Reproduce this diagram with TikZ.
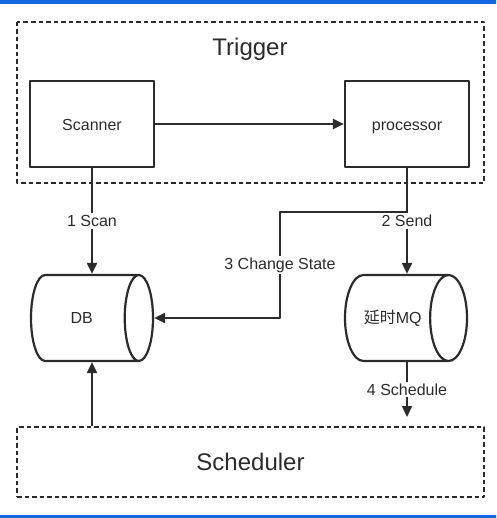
\documentclass[tikz,border=0pt]{standalone}
\usepackage{fontspec}
\setmainfont{Liberation Sans}
\newfontfamily\cjk{Noto Sans CJK SC}
\usetikzlibrary{arrows.meta,shapes.geometric}
\definecolor{ink}{HTML}{2B2B2B}
\definecolor{barblue}{HTML}{1467E0}
\begin{document}
\begin{tikzpicture}[x=1pt, y=-1pt, line join=round, >={Triangle[length=11pt,width=10pt]},
	font=\fontsize{16}{19}\selectfont, color=ink,
	box/.style={draw, line width=2.2pt, minimum width=124pt, minimum height=86pt, text height=13pt, text depth=0pt},
	store/.style={draw, line width=2.2pt, cylinder, aspect=1.6, minimum width=86pt, minimum height=122pt, anchor=shape center},
	group/.style={draw, dashed, line width=1.1pt, dash pattern=on 4.5pt off 3pt},
	flow/.style={->, line width=2pt},
	tag/.style={fill=white, inner sep=2pt}]
	\useasboundingbox (0,0) rectangle (496,518);
	\fill[barblue] (0,0) rectangle (496,4) (0,515) rectangle (496,518);
	% Trigger
	\draw[group] (17,22) rectangle (484,183);
	\node[font=\fontsize{24}{28}\selectfont] (trigger) at (250,49) {Trigger};
	\node[box] (scanner) at (92,124) {Scanner};
	\node[box] (processor) at (407,124) {processor};
	% stores
	\node[store] (db) at (92,318) {DB};
	\node[store] (mq) at (406,318) {{\cjk 延时}MQ};
	% Scheduler
	\node[group, minimum width=467pt, minimum height=70pt, font=\fontsize{24}{28}\selectfont] (sched) at (250.5,462) {Scheduler};
	\coordinate (split) at (407,212);
	\coordinate (turn) at (280,212);
	\coordinate (sdown) at (407,417);
	% flows
	\draw[flow] (scanner) -- (processor);
	\draw[flow] (scanner.south) -- node[tag] {1 Scan} (scanner.south |- db.north);
	\draw[flow] (processor.south) -- node[tag] {2 Send} (processor.south |- mq.north);
	\draw[flow] (split) -- (turn) -- node[tag] {3 Change State} (turn |- db.east) -- (db.east);
	\draw[flow] (sdown |- mq.south) -- node[tag] {4 Schedule} (sdown);
	\draw[flow] (sched.north -| scanner.south) -- (scanner.south |- db.south);
\end{tikzpicture}
\end{document}
